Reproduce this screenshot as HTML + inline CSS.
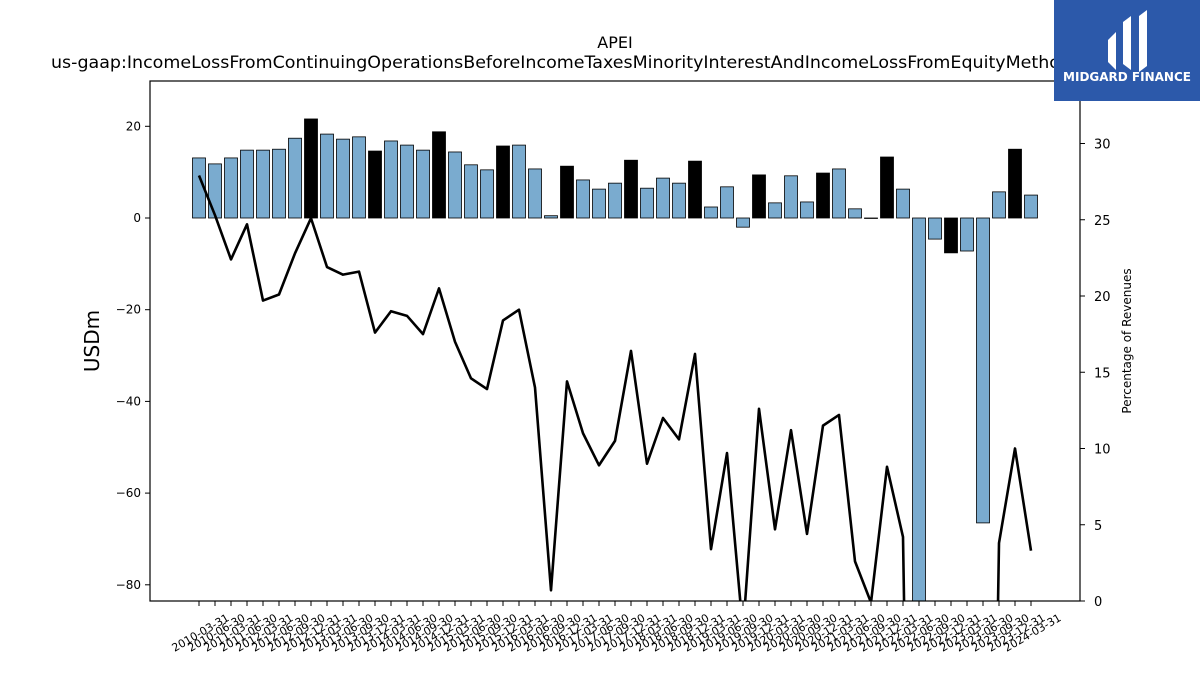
<!DOCTYPE html>
<html><head><meta charset="utf-8"><style>
body{margin:0;background:#fff;overflow:hidden;}
svg text{font-family:"DejaVu Sans","Liberation Sans",sans-serif;}
</style></head><body>
<svg id="chart" width="1200" height="675" xmlns="http://www.w3.org/2000/svg" style="display:block">
<defs><clipPath id="plotclip"><rect x="150" y="81" width="930" height="520"/></clipPath></defs>
<text x="615" y="48" text-anchor="middle" font-size="16">APEI</text>
<text x="51" y="68" font-size="17" textLength="1128" lengthAdjust="spacingAndGlyphs">us-gaap:IncomeLossFromContinuingOperationsBeforeIncomeTaxesMinorityInterestAndIncomeLossFromEquityMethodInvestments</text>
<g id="bars" clip-path="url(#plotclip)"></g>
<g id="line" clip-path="url(#plotclip)"></g>
<rect x="150" y="81" width="930" height="520" fill="none" stroke="#000" stroke-width="1.2"/>
<g id="axes"></g>
<text transform="translate(99,341) rotate(-90)" text-anchor="middle" font-size="20">USDm</text>
<text transform="translate(1131,341) rotate(-90)" text-anchor="middle" font-size="12">Percentage of Revenues</text>
<g>
<rect x="1054" y="0" width="146" height="101" fill="#2c59aa"/>
<path d="M1108 40 L1116 32 L1116 70 L1108 62 Z" fill="#fff"/>
<path d="M1123 22 L1131 16 L1131 70 L1123 64 Z" fill="#fff"/>
<path d="M1139 16 L1147 10 L1147 66 L1139 72 Z" fill="#fff"/>
<text x="1127" y="81" text-anchor="middle" font-size="12" font-weight="bold" fill="#fff">MIDGARD FINANCE</text>
</g>
</svg>
<script>
const categories=["2010-03-31","2010-06-30","2011-03-31","2011-06-30","2012-03-31","2012-06-30","2012-09-30","2012-12-31","2013-03-31","2013-06-30","2013-09-30","2013-12-31","2014-03-31","2014-06-30","2014-09-30","2014-12-31","2015-03-31","2015-06-30","2015-09-30","2015-12-31","2016-03-31","2016-06-30","2016-09-30","2016-12-31","2017-03-31","2017-06-30","2017-09-30","2017-12-31","2018-03-31","2018-06-30","2018-09-30","2018-12-31","2019-03-31","2019-06-30","2019-09-30","2019-12-31","2020-03-31","2020-06-30","2020-09-30","2020-12-31","2021-03-31","2021-06-30","2021-09-30","2021-12-31","2022-03-31","2022-06-30","2022-09-30","2022-12-31","2023-03-31","2023-06-30","2023-09-30","2023-12-31","2024-03-31"];
const barValues=[13.1,11.8,13.1,14.8,14.8,15.0,17.4,21.6,18.3,17.2,17.7,14.6,16.8,15.9,14.8,18.8,14.4,11.6,10.5,15.7,15.9,10.7,0.5,11.3,8.3,6.3,7.6,12.6,6.5,8.7,7.6,12.4,2.4,6.8,-2.0,9.4,3.3,9.2,3.5,9.8,10.7,2.0,-0.1,13.3,6.3,-120,-4.6,-7.6,-7.2,-66.5,5.7,15.0,5.0];
const pctValues=[27.9,25.3,22.4,24.7,19.7,20.1,22.8,25.1,21.9,21.4,21.6,17.6,19.0,18.7,17.5,20.5,17.0,14.6,13.9,18.4,19.1,14.0,0.7,14.4,11.0,8.9,10.5,16.4,9.0,12.0,10.6,16.2,3.4,9.7,-2.0,12.6,4.7,11.2,4.4,11.5,12.2,2.6,-0.1,8.8,4.2,-60,-20,-30,-30,-60,3.8,10.0,3.3];
const leftTicks=[20,0,-20,-40,-60,-80];
const rightTicks=[0,5,10,15,20,25,30];
const NS="http://www.w3.org/2000/svg";
const yL=v=>218-v*4.585, yR=v=>601-v*15.25, xC=i=>199+i*16;
function mk(t,a,p){const e=document.createElementNS(NS,t);for(const k in a)e.setAttribute(k,a[k]);p.appendChild(e);return e;}
const bars=document.getElementById('bars');
barValues.forEach((v,i)=>{const y0=yL(0),y1=yL(v);
 const r=mk('rect',{x:xC(i)-6.5,y:Math.min(y0,y1),width:13,height:Math.abs(y1-y0),fill:categories[i].endsWith('12-31')?'#000':'#7aabcf',stroke:'#000','stroke-width':0.8},bars);
 
 });
const line=document.getElementById('line');
const pl=mk('polyline',{points:pctValues.map((v,i)=>xC(i)+','+yR(v)).join(' '),fill:'none',stroke:'#000','stroke-width':2.6,'stroke-linejoin':'round'},line);


const ax=document.getElementById('axes');
leftTicks.forEach(v=>{const y=yL(v);mk('line',{x1:145,x2:150,y1:y,y2:y,stroke:'#000'},ax);
 const t=mk('text',{x:141,y:y+4,'text-anchor':'end','font-size':12},ax);t.textContent=v<0?'\u2212'+(-v):v;
 
 });
rightTicks.forEach(v=>{const y=yR(v);mk('line',{x1:1080,x2:1085,y1:y,y2:y,stroke:'#000'},ax);
 const t=mk('text',{x:1094,y:y+5,'font-size':13},ax);t.textContent=v;
 
 });
categories.forEach((c,i)=>{const x=xC(i);mk('line',{x1:x,x2:x,y1:601,y2:606,stroke:'#000'},ax);
 const t=mk('text',{transform:`translate(${x+31},${620}) rotate(-30)`,'text-anchor':'end','font-size':11},ax);t.textContent=c;
 
 });
</script>
</body></html>
